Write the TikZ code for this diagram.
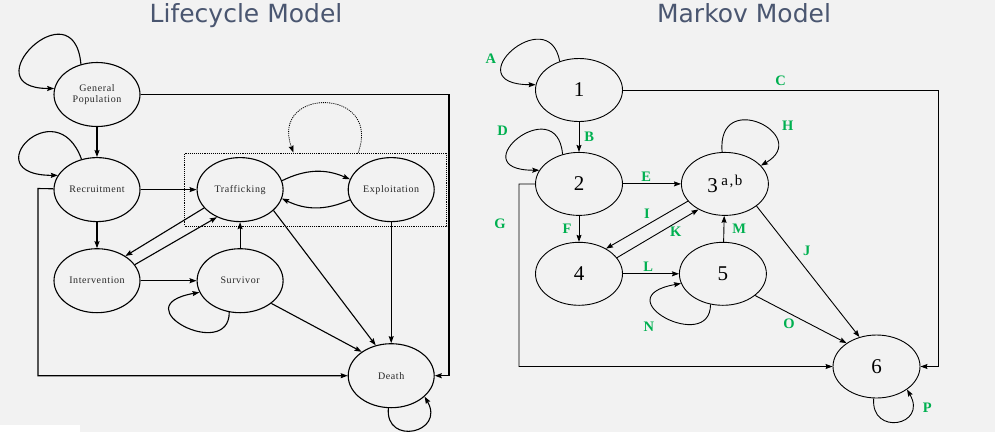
\documentclass[tikz,border=0pt]{standalone}
\usepackage{fontspec}
\setmainfont{Liberation Serif}
\newfontfamily\headfont{DejaVu Sans}
\newfontfamily\lcfont[LetterSpace=6]{Liberation Serif}
\newfontfamily\supfont[LetterSpace=10]{Liberation Serif}
\usetikzlibrary{arrows.meta, positioning, fit, shapes.geometric}
\definecolor{bggrey}{HTML}{F2F2F2}
\definecolor{slate}{HTML}{4A5670}
\definecolor{edgegreen}{HTML}{00B050}

\begin{document}
\begin{tikzpicture}[x=1pt, y=1pt,
    lcstate/.style={draw, ellipse, line width=1.1pt, minimum width=86pt,
                    minimum height=64pt, inner sep=0pt, align=center,
                    font=\lcfont\fontsize{10}{11.5}\selectfont, text=black!85},
    mkstate/.style={draw, ellipse, line width=0.9pt, minimum width=87pt,
                    minimum height=63pt, inner sep=0pt,
                    font=\fontsize{21}{23}\selectfont},
    flow/.style={->, line width=1.1pt},
    mflow/.style={->, line width=0.9pt},
    lbl/.style={font=\bfseries\fontsize{14.5}{15}\selectfont, text=edgegreen,
                inner sep=2pt},
    heading/.style={font=\headfont\fontsize{25}{28}\selectfont, text=slate,
                    anchor=base},
    >={Stealth[length=7pt, width=5pt, inset=1pt]}]
  \path[use as bounding box, fill=bggrey] (0,0) rectangle (995,-432);
  \fill[white] (0,-425) rectangle (80,-432);

  \node[heading] (lctitle) at (246,-22) {Lifecycle Model};
  \node[heading] (mktitle) at (744,-22) {Markov Model};

  % lifecycle model
  \node[lcstate] (gp) at (97,-94.5) {General\\Population};
  \node[lcstate, below=30pt of gp] (rec) {Recruitment};
  \node[lcstate, below=26pt of rec] (int) {Intervention};
  \node[lcstate, right=56pt of rec] (traf) {Trafficking};
  \node[lcstate, right=64pt of traf] (expl) {Exploitation};
  \node[lcstate, right=56pt of int] (surv) {Survivor};
  \node[lcstate, below=121pt of expl] (death) {Death};
  \node[draw, densely dotted, line width=0.9pt, fit=(traf)(expl),
        inner xsep=12pt, inner ysep=4pt] (cell) {};
  \coordinate (gpturn) at (449,-94.5);
  \coordinate (recturn) at (38,-188.5);

  \draw[flow] (gp) -- (rec);
  \draw[flow] (rec) -- (traf);
  \draw[flow] (rec) -- (int);
  \draw[flow] (traf.207) -- (int.41);
  \draw[flow] (int.23) -- (traf.230);
  \draw[flow] (int) -- (surv);
  \draw[flow] (surv) -- (traf);
  \draw[flow] (traf.12) to[bend left=25] (expl.166);
  \draw[flow] (expl.194) to[bend left=25] (traf.348);
  \draw[flow] (traf.328) -- (death.117);
  \draw[flow] (surv.324) -- (death.141);
  \draw[flow] (expl) -- (death);
  \draw[flow] (gp) -- (gpturn) |- (death);
  \draw[flow] (rec) -- (recturn) |- (death);
  \draw[flow] (gp.118) .. controls +(95:80) and +(180:85) .. (gp.172);
  \draw[flow] (rec.117) .. controls +(110:75) and +(180:85) .. (rec.160);
  \draw[flow] (surv.251) .. controls +(270:50) and +(190:80) .. (surv.196);
  \draw[flow] (death.265) .. controls +(265:38) and +(300:42) .. (death.328);
  \draw[flow, densely dotted, line width=0.8pt]
    (cell.41) .. controls +(70:70) and +(110:70) .. (cell.121);

  % markov model
  \node[mkstate] (n1) at (579,-90) {1};
  \node[mkstate, below=30pt of n1] (n2) {2};
  \node[mkstate, below=26pt of n2] (n4) {4};
  \node[mkstate, right=58pt of n2] (n3)
    {3\,\raisebox{7pt}{\supfont\fontsize{15}{15}\selectfont a,b}};
  \node[mkstate, right=56pt of n4] (n5) {5};
  \node[mkstate] (n6) at (876.5,-366.5) {6};
  \coordinate (cturn) at (938,-90);
  \coordinate (gturn) at (519,-184);

  \draw[mflow] (n1.124) .. controls +(100:62) and +(180:82) .. node[lbl, pos=.6, left=7pt] {A} (n1.173);
  \draw[mflow] (n1) -- node[lbl, right=3pt] {B} (n2);
  \draw[mflow] (n1) -- node[lbl, above=2pt, pos=.5] {C} (cturn) |- (n6);
  \draw[mflow] (n2.119) .. controls +(95:65) and +(180:80) .. node[lbl, pos=.55, above left=6pt] {D} (n2.161);
  \draw[mflow] (n2) -- node[lbl, above, pos=.4] {E} (n3);
  \draw[mflow] (n2) -- node[lbl, left=5pt] {F} (n4);
  \draw[mflow] (n2) -- (gturn) |- node[lbl, left=11pt, pos=.11] {G} (n6);
  \draw[mflow] (n3.95) .. controls +(95:65) and +(30:60) .. node[lbl, pos=.55, right=16pt] {H} (n3.27);
  \draw[mflow] (n3.205) -- node[lbl, above=4pt] {I} (n4.43);
  \draw[mflow] (n4.23) -- node[lbl, below=2pt, pos=.72] {K} (n3.224);
  \draw[mflow] (n3.325) -- node[lbl, right=9pt, pos=.34] {J} (n6.120);
  \draw[mflow] (n4) -- node[lbl, above, pos=.45] {L} (n5);
  \draw[mflow] (n5) -- node[lbl, right=6pt] {M} (n3);
  \draw[mflow] (n5.248) .. controls +(270:50) and +(190:80) .. node[lbl, pos=.55, below left=7pt] {N} (n5.193);
  \draw[mflow] (n5.326) -- node[lbl, below=3pt, pos=.37] {O} (n6.142);
  \draw[mflow] (n6.265) .. controls +(265:38) and +(300:42) .. node[lbl, pos=.8, right=9pt] {P} (n6.323);
\end{tikzpicture}
\end{document}
